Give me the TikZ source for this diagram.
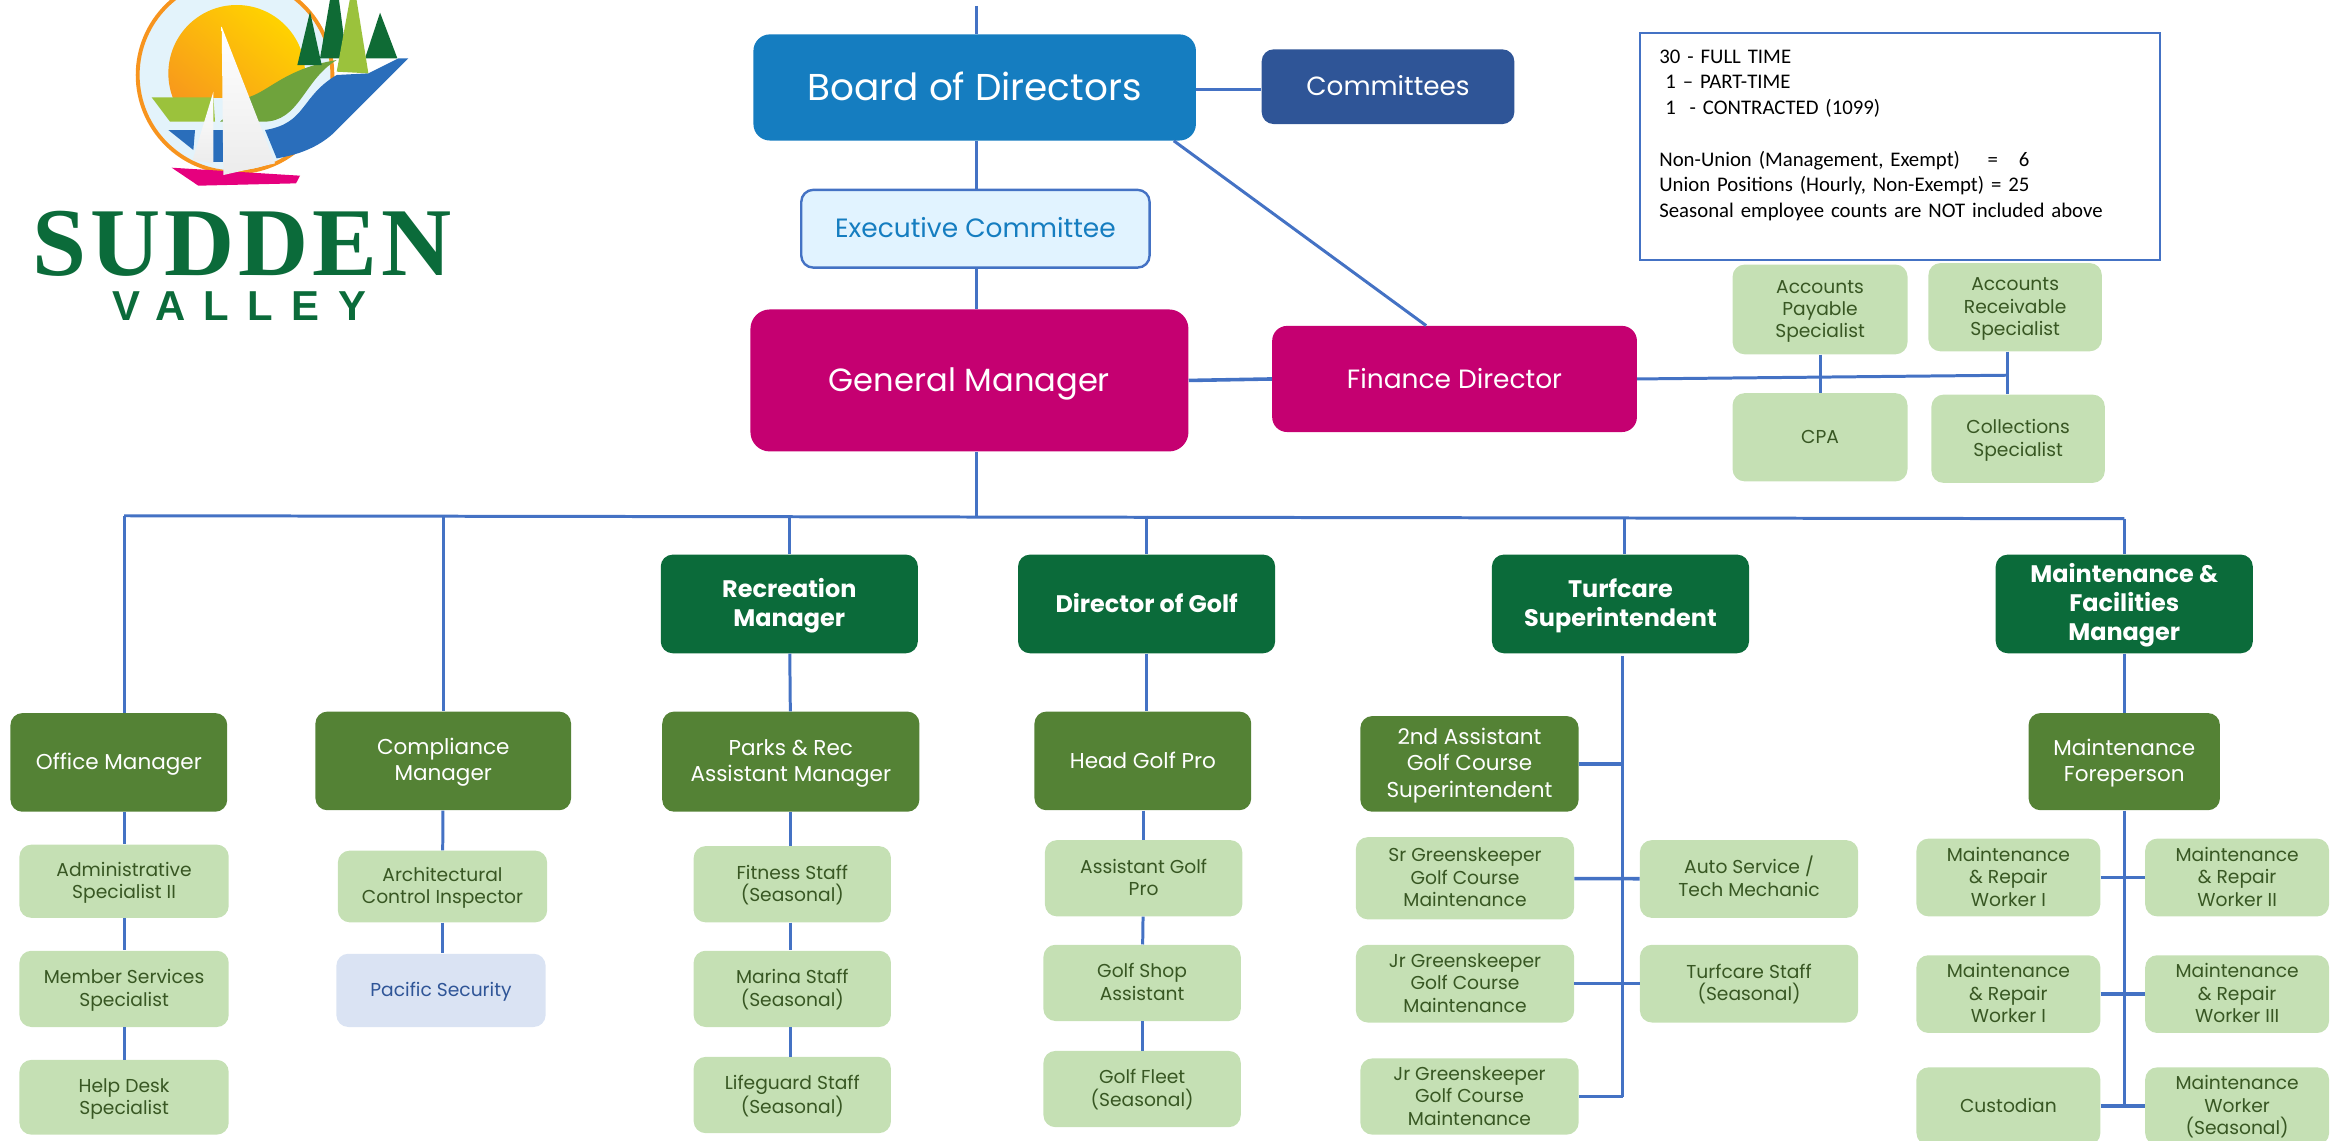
\documentclass[tikz,border=0pt]{standalone}
\usepackage{fontspec}
\setmainfont{Poppins}
\newfontfamily\notefont{Carlito}
\newfontfamily\logoserif[LetterSpace=4]{Liberation Serif}
\newfontfamily\logosans[LetterSpace=44]{Liberation Sans}

\definecolor{LinkBlue}{HTML}{4472C4}
\definecolor{BoardBlue}{HTML}{157DC0}
\definecolor{NavyBlue}{HTML}{2F5597}
\definecolor{PaleBlue}{HTML}{E1F3FF}
\definecolor{Magenta}{HTML}{C50071}
\definecolor{DarkGreen}{HTML}{0B6B3A}
\definecolor{MidGreen}{HTML}{548235}
\definecolor{LeafGreen}{HTML}{C5E0B4}
\definecolor{LeafText}{HTML}{385723}
\definecolor{SecurityBlue}{HTML}{DAE3F3}
\definecolor{RingOrange}{HTML}{F7941E}
\definecolor{SkyPale}{HTML}{E3F3FB}
\definecolor{SunYellow}{HTML}{FFD200}
\definecolor{LimeGreen}{HTML}{9BC23C}
\definecolor{HillGreen}{HTML}{6FA33C}
\definecolor{RiverBlue}{HTML}{2A6EBB}
\definecolor{TreeGreen}{HTML}{0F6B35}
\definecolor{HullPink}{HTML}{E6007E}

\newcommand{\firstline}{\rule{0pt}{.95em}}

\begin{document}
\begin{tikzpicture}[
    x=1pt,y=-1pt,
    plainbox/.style={rectangle,rounded corners=8,inner sep=0pt,align=center,
      execute at begin node={\rule{0pt}{1em}},
      execute at end node={\rule[-.3em]{0pt}{0pt}}},
    boardbox/.style={plainbox,rounded corners=11,fill=BoardBlue,text=white,font=\fontsize{25}{29}\selectfont},
    navybox/.style={plainbox,fill=NavyBlue,text=white,font=\fontsize{17.6}{20}\selectfont},
    execbox/.style={plainbox,fill=PaleBlue,draw=LinkBlue,line width=1.6pt,text=BoardBlue,font=\fontsize{17.7}{20}\selectfont},
    magentabox/.style={plainbox,rounded corners=13,fill=Magenta,text=white,font=\fontsize{21.5}{25}\selectfont},
    rolebox/.style={plainbox,fill=DarkGreen,text=white,font=\fontsize{16}{19.5}\selectfont\bfseries},
    midbox/.style={plainbox,fill=MidGreen,text=white,font=\fontsize{14.4}{17.5}\selectfont},
    leafbox/.style={plainbox,fill=LeafGreen,text=LeafText,font=\fontsize{12.5}{15}\selectfont},
    securitybox/.style={leafbox,fill=SecurityBlue,text=NavyBlue},
    infobox/.style={rectangle,draw=LinkBlue,line width=1.3pt,inner sep=0pt,align=left,text=black,
      font=\notefont\fontsize{13.9}{17.2}\selectfont},
    logotext/.style={inner sep=0pt,text=DarkGreen,text depth=0pt},
    link/.style={draw=LinkBlue,line width=2pt},
    thicklink/.style={draw=LinkBlue,line width=2.4pt}
  ]
    \useasboundingbox (0,0) rectangle (1568,762.6);

    \begin{scope}[x=0.223pt,y=-0.223pt]
      \filldraw[draw=RingOrange,fill=SkyPale,line width=2.6pt] (705,225) circle (292);
      \begin{scope}
        \clip (400,-100) rectangle (1000,292);
        \shade[left color=SunYellow,right color=RingOrange,shading angle=-40] (710,220) circle (205);
      \end{scope}
      \fill[LimeGreen] (455,292) -- (640,292) -- (645,365) -- (510,365) -- cycle;
      \fill[HillGreen] (750,290) .. controls (810,270) and (860,205) .. (1010,180) .. controls (910,240) and (900,365) .. (790,365) -- (660,365) -- cycle;
      \fill[RiverBlue] (795,390) .. controls (920,370) and (900,290) .. (1010,225) -- (1105,220) -- (1195,175) -- (1225,175) -- (1000,400) .. controls (950,445) and (890,465) .. (830,475) -- cycle;
      \fill[RiverBlue] (505,390) -- (585,390) -- (580,450) -- cycle;
      \fill[RiverBlue] (640,390) rectangle (670,485);
      \fill[TreeGreen] (930,35) -- (965,195) -- (892,195) -- cycle;
      \fill[TreeGreen] (1005,-90) -- (1040,175) -- (960,175) -- cycle;
      \fill[TreeGreen] (1140,38) -- (1192,175) -- (1095,175) -- cycle;
      \fill[LimeGreen] (1060,-60) -- (1105,220) -- (1010,215) -- cycle;
      \fill[HullPink] (515,503) -- (900,527) -- (888,550) -- (595,557) -- cycle;
      \shade[top color=white,bottom color=gray!15] (665,80) -- (825,490) -- (670,525) -- cycle;
      \shade[top color=white,bottom color=gray!15] (640,275) -- (640,490) -- (578,480) -- cycle;
    \end{scope}
    \node[logotext,font=\logoserif\fontsize{65}{65}\selectfont\bfseries] (LogoTop) at (162,163) {SUDDEN};
    \node[logotext,font=\logosans\fontsize{28}{28}\selectfont\bfseries] (LogoBottom) at (160,205) {VALLEY};

    \node[boardbox,minimum width=296,minimum height=71] (Board) at (652,58.5) {Board of Directors};
    \node[navybox,minimum width=169,minimum height=50] (Committees) at (928.5,58) {Committees};
    \node[execbox,minimum width=233,minimum height=52] (Exec) at (652.5,153) {Executive Committee};
    \node[magentabox,minimum width=293,minimum height=95] (GM) at (648.5,254.5) {General Manager};
    \node[magentabox,rounded corners=10,font=\fontsize{17.7}{20}\selectfont,minimum width=244,minimum height=71] (Finance) at (973,253.5) {Finance Director};
    \node[infobox,minimum width=348,minimum height=152,text width=322] (Info) at (1271,98) {30 - FULL TIME\\
      \hspace*{4pt}1 – PART-TIME\\
      \hspace*{4pt}1\ \ - CONTRACTED (1099)\\
      \mbox{}\\
      Non-Union (Management, Exempt)\ \ \ \ =\ \ \ 6\\
      Union Positions (Hourly, Non-Exempt) = 25\\
      Seasonal employee counts are NOT included above\\
      \mbox{}};

    \node[leafbox,minimum width=117,minimum height=60] (Payable) at (1217.5,207) {\firstline Accounts\\Payable\\Specialist};
    \node[leafbox,minimum width=116,minimum height=59] (Receivable) at (1348,205.5) {\firstline Accounts\\Receivable\\Specialist};
    \node[leafbox,minimum width=117,minimum height=59] (CPA) at (1217.5,292.5) {CPA};
    \node[leafbox,minimum width=116,minimum height=59] (Collections) at (1350,293.5) {\firstline Collections\\Specialist};

    \node[rolebox,minimum width=172,minimum height=66] (Recreation) at (528,404) {\firstline Recreation\\Manager};
    \node[rolebox,minimum width=172,minimum height=66] (DirGolf) at (767,404) {Director of Golf};
    \node[rolebox,minimum width=172,minimum height=66] (Turfcare) at (1084,404) {\firstline Turfcare\\Superintendent};
    \node[rolebox,minimum width=172,minimum height=66] (Facilities) at (1421,404) {\firstline Maintenance \&\\Facilities\\Manager};

    \node[midbox,minimum width=145,minimum height=66] (Office) at (79.5,510) {Office Manager};
    \node[midbox,minimum width=171,minimum height=66] (Compliance) at (296.5,509) {\firstline Compliance\\Manager};
    \node[midbox,minimum width=172,minimum height=67] (Parks) at (529,509.5) {\firstline Parks \& Rec\\Assistant Manager};
    \node[midbox,minimum width=145,minimum height=66] (HeadPro) at (764.5,509) {Head Golf Pro};
    \node[midbox,minimum width=146,minimum height=64] (SecondAsst) at (983,511) {\firstline 2nd Assistant\\Golf Course\\Superintendent};
    \node[midbox,minimum width=128,minimum height=65] (Foreperson) at (1421,509.5) {\firstline Maintenance\\Foreperson};

    \node[leafbox,minimum width=140,minimum height=49] (Admin) at (83,589.5) {\firstline Administrative\\Specialist II};
    \node[leafbox,minimum width=140,minimum height=51] (Member) at (83,661.5) {\firstline Member Services\\Specialist};
    \node[leafbox,minimum width=140,minimum height=50] (HelpDesk) at (83,734) {\firstline Help Desk\\Specialist};
    \node[leafbox,minimum width=140,minimum height=48] (Inspector) at (296,593) {\firstline Architectural\\Control Inspector};
    \node[securitybox,minimum width=140,minimum height=49] (Security) at (295,662.5) {Pacific Security};
    \node[leafbox,minimum width=132,minimum height=51] (Fitness) at (530,591.5) {\firstline Fitness Staff\\(Seasonal)};
    \node[leafbox,minimum width=132,minimum height=51] (Marina) at (530,661.5) {\firstline Marina Staff\\(Seasonal)};
    \node[leafbox,minimum width=132,minimum height=51] (Lifeguard) at (530,732.5) {\firstline Lifeguard Staff\\(Seasonal)};
    \node[leafbox,minimum width=132,minimum height=51] (AsstPro) at (765,587.5) {\firstline Assistant Golf\\Pro};
    \node[leafbox,minimum width=132,minimum height=51] (Shop) at (764,657.5) {\firstline Golf Shop\\Assistant};
    \node[leafbox,minimum width=132,minimum height=51] (Fleet) at (764,728.5) {\firstline Golf Fleet\\(Seasonal)};
    \node[leafbox,minimum width=146,minimum height=55] (SrKeeper) at (980,587.5) {\firstline Sr Greenskeeper\\Golf Course\\Maintenance};
    \node[leafbox,minimum width=146,minimum height=52] (JrKeeper) at (980,658) {\firstline Jr Greenskeeper\\Golf Course\\Maintenance};
    \node[leafbox,minimum width=146,minimum height=51] (JrKeeperB) at (983,733.5) {\firstline Jr Greenskeeper\\Golf Course\\Maintenance};
    \node[leafbox,minimum width=146,minimum height=52] (AutoMech) at (1170,588) {\firstline Auto Service /\\Tech Mechanic};
    \node[leafbox,minimum width=146,minimum height=52] (TurfStaff) at (1170,658) {\firstline Turfcare Staff\\(Seasonal)};
    \node[leafbox,minimum width=123,minimum height=52] (RepairA) at (1343.5,587) {\firstline Maintenance\\\& Repair\\Worker I};
    \node[leafbox,minimum width=123,minimum height=52] (RepairB) at (1496.5,587) {\firstline Maintenance\\\& Repair\\Worker II};
    \node[leafbox,minimum width=123,minimum height=52] (RepairC) at (1343.5,665) {\firstline Maintenance\\\& Repair\\Worker I};
    \node[leafbox,minimum width=123,minimum height=52] (RepairD) at (1496.5,665) {\firstline Maintenance\\\& Repair\\Worker III};
    \node[leafbox,minimum width=123,minimum height=52] (Custodian) at (1343.5,740) {Custodian};
    \node[leafbox,minimum width=123,minimum height=52] (SeasonWorker) at (1496.5,740) {\firstline Maintenance\\Worker\\(Seasonal)};

    \coordinate (TopEnd) at (653,4);
    \coordinate (BusLeft) at (83,345);
    \coordinate (BusRight) at (1421,347);
    \coordinate (TurfDrop) at (1087,346);
    \coordinate (TurfTop) at (1085.5,439);
    \coordinate (TurfEnd) at (1085.5,733.5);
    \coordinate (FinanceEnd) at (1343,251);

    \draw[link] (TopEnd) -- (TopEnd |- Board.north);
    \draw[link] (TopEnd |- Board.south) -- (TopEnd |- Exec.north);
    \draw[link] (TopEnd |- Exec.south) -- (TopEnd |- GM.north);
    \draw[link] (TopEnd |- GM.south) -- (TopEnd |- BusLeft);
    \draw[thicklink] ([yshift=-1.5]Board.east) -- ([yshift=-2]Committees.west);
    \draw[link] ([xshift=-15]Board.south east) -- ([xshift=-19]Finance.north);
    \draw[thicklink] (GM.east) -- (Finance.west);

    \draw[link] (Finance.east) -- (FinanceEnd);
    \draw[link] (Payable) -- (CPA);
    \draw[link] (FinanceEnd |- Receivable.south) -- (FinanceEnd |- Collections.north);

    \draw[link] (BusLeft) -- (BusRight);
    \draw[link] (BusLeft) -- (BusLeft |- Office.north);
    \draw[link] (Compliance |- BusLeft) -- (Compliance);
    \draw[link] (Recreation |- BusLeft) -- (Recreation);
    \draw[link] (DirGolf |- BusLeft) -- (DirGolf);
    \draw[link] (TurfDrop) -- (TurfDrop |- Turfcare.north);
    \draw[link] (BusRight) -- (Facilities);

    \draw[link] (BusLeft |- Office.south) -- (Admin);
    \draw[link] (Admin) -- (Member);
    \draw[link] (Member) -- (HelpDesk);
    \draw[link] (Compliance) -- (Inspector);
    \draw[link] (Inspector) -- (Inspector |- Security.north);
    \draw[link] (Recreation) -- (Parks);
    \draw[link] (Parks) -- (Parks |- Fitness.north);
    \draw[link] (Parks |- Fitness.south) -- (Parks |- Marina.north);
    \draw[link] (Parks |- Marina.south) -- (Parks |- Lifeguard.north);
    \draw[link] (DirGolf) -- (DirGolf |- HeadPro.north);
    \draw[link] (AsstPro |- HeadPro.south) -- (AsstPro);
    \draw[link] (AsstPro) -- (Shop);
    \draw[link] (Shop) -- (Fleet);

    \draw[link] (TurfTop) -- (TurfEnd);
    \draw[thicklink] (TurfEnd) -- (JrKeeperB.east);
    \draw[thicklink] (SecondAsst.east) -- (TurfTop |- SecondAsst.east);
    \draw[thicklink] (SrKeeper) -- (AutoMech);
    \draw[thicklink] (JrKeeper) -- (TurfStaff);

    \draw[link] (Facilities) -- (Foreperson);
    \draw[link] (Foreperson) -- (Foreperson |- Custodian);
    \draw[thicklink] (RepairA) -- (RepairB);
    \draw[thicklink] (RepairC) -- (RepairD);
    \draw[thicklink] (Custodian) -- (SeasonWorker);
  \end{tikzpicture}
\end{document}
